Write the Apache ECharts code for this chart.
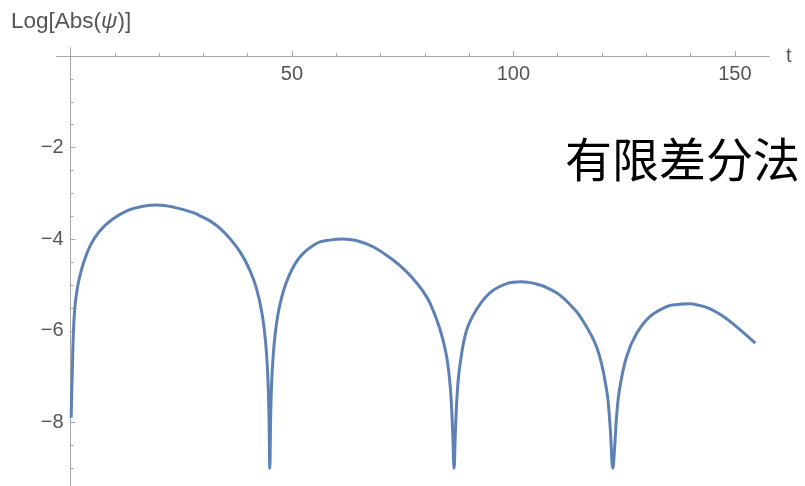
<!DOCTYPE html>
<html><head><meta charset="utf-8">
<script src="https://cdn.jsdelivr.net/npm/echarts@6/dist/echarts.min.js"></script>
<style>html,body{margin:0;padding:0;background:#fff}#c{width:805px;height:486px}</style>
</head><body><div id="c"></div>
<script>
// time values (t) and Log[Abs(psi)]
const tValues = [
  0.15, 0.4, 0.65, 1.0, 1.5, 2.0, 2.9, 4.4, 6.5, 9.7, 13, 16.4, 19.5, 23.2, 27.7, 29.5, 31.5, 33.7, 36.2, 38.5, 40.5, 42, 43.2, 44, 44.5, 44.8, 45.0,
  45.2, 45.5, 46.2, 47.3, 49.2, 51.8, 55.6, 58.5, 61.5, 64.5, 68.4, 72.9, 75.2, 77.4, 79.4, 81.2, 83.4, 84.9, 85.8, 86.3, 86.6,
  86.9, 87.3, 87.9, 89.4, 91.7, 94.7, 98.5, 101.8, 106, 108.2, 110.5, 112.8, 115, 118.8, 121, 121.8, 122.45,
  122.85, 123.3, 124, 125.6, 127.8, 130.8, 134.6, 137, 139.5, 142, 144.4, 147, 149.6, 154.6
];
const logAbsPsi = [
  -7.9, -6.9, -6.05, -5.47, -5.1, -4.85, -4.53, -4.15, -3.83, -3.55, -3.37, -3.28, -3.255, -3.30, -3.42, -3.50, -3.60, -3.76, -4.01, -4.31, -4.68, -5.08, -5.6, -6.2, -6.9, -7.8, -9,
  -7.85, -6.95, -6.08, -5.42, -4.83, -4.39, -4.09, -4.02, -3.995, -4.03, -4.17, -4.46, -4.65, -4.87, -5.11, -5.40, -5.96, -6.55, -7.3, -8.25, -9,
  -8.2, -7.38, -6.77, -6.0, -5.53, -5.17, -4.97, -4.93, -5.00, -5.09, -5.22, -5.43, -5.68, -6.36, -7.27, -8.05, -9,
  -8.55, -7.85, -7.25, -6.55, -6.06, -5.69, -5.47, -5.425, -5.41, -5.445, -5.52, -5.66, -5.85, -6.27
];
const xMajorTicks = [50, 100, 150];
const xMinorTicks = [10, 20, 30, 40, 60, 70, 80, 90, 110, 120, 130, 140];
const yMajorTicks = [-8, -6, -4, -2];
const yMinorTicks = [-9, -8.5, -7.5, -7, -6.5, -5.5, -5, -4.5, -3.5, -3, -2.5, -1.5, -1, -0.5];

const FONT = 'Liberation Sans';
const AXIS_COLOR = '#a6a6a6';
const LABEL_COLOR = '#555555';
// plot frame: x axis drawn at y = 0, y axis drawn at t = 0
const X_MIN = -3.047, X_MAX = 157.7, Y_MIN = -9.389, Y_MAX = 0.1747;
const X_AXIS_OFFSET = -8;      // from grid top down to value 0
const Y_AXIS_OFFSET = -13.5;   // from grid left right to t = 0

const chart = echarts.init(document.getElementById('c'), null, {renderer: 'canvas'});
const fmt = v => String(v).replace('-', '\u2212');

const xBase = {
  type: 'value', min: X_MIN, max: X_MAX, position: 'top', offset: X_AXIS_OFFSET,
  axisLine: {onZero: false, lineStyle: {color: AXIS_COLOR, width: 1}},
  splitLine: {show: false}
};
const yBase = {
  type: 'value', min: Y_MIN, max: Y_MAX, position: 'left', offset: Y_AXIS_OFFSET,
  axisLine: {onZero: false, lineStyle: {color: AXIS_COLOR, width: 1}},
  splitLine: {show: false}
};

chart.setOption({
  animation: false,
  backgroundColor: '#fff',
  title: {
    text: '{a|Log[Abs(}{b|\u03c8}{a|)]}',
    left: 6, top: 5,
    textStyle: {
      fontWeight: 'normal',
      rich: {
        a: {fontSize: 22.5, color: LABEL_COLOR, fontFamily: FONT, fontWeight: 'normal'},
        b: {fontSize: 22.5, color: LABEL_COLOR, fontFamily: FONT, fontWeight: 'normal', fontStyle: 'italic'}
      }
    }
  },
  grid: {left: 57, right: 36, top: 48, bottom: 0, containLabel: false, outerBoundsMode: 'none'},
  xAxis: [
    Object.assign({}, xBase, {
      name: 't', nameLocation: 'end', nameGap: 17,
      nameTextStyle: {fontSize: 20, color: LABEL_COLOR, fontFamily: FONT},
      axisTick: {inside: false, length: 5, customValues: xMajorTicks, lineStyle: {color: AXIS_COLOR}},
      axisLabel: {inside: true, customValues: xMajorTicks, fontSize: 20, color: LABEL_COLOR, fontFamily: FONT, margin: 8, formatter: fmt}
    }),
    Object.assign({}, xBase, {
      axisTick: {inside: false, length: 3, customValues: xMinorTicks, lineStyle: {color: AXIS_COLOR}},
      axisLabel: {show: false}
    })
  ],
  yAxis: [
    Object.assign({}, yBase, {
      axisTick: {inside: true, length: 5, customValues: yMajorTicks, lineStyle: {color: AXIS_COLOR}},
      axisLabel: {customValues: yMajorTicks, fontSize: 20, color: LABEL_COLOR, fontFamily: FONT, margin: 7, formatter: fmt}
    }),
    Object.assign({}, yBase, {
      axisTick: {inside: true, length: 3, customValues: yMinorTicks, lineStyle: {color: AXIS_COLOR}},
      axisLabel: {show: false}
    })
  ],
  graphic: [{
    type: 'text', left: 565, top: 136,
    style: {text: '有限差分法', fontSize: 47, fontFamily: '"Noto Sans CJK SC"', fill: '#000'}
  }],
  series: [{
    type: 'line',
    xAxisIndex: 0, yAxisIndex: 0,
    data: tValues.map((t, i) => [t, logAbsPsi[i]]),
    showSymbol: false,
    smooth: 0.4,
    clip: true,
    lineStyle: {color: '#5E81B5', width: 3}
  }]
});
</script>
</body></html>
